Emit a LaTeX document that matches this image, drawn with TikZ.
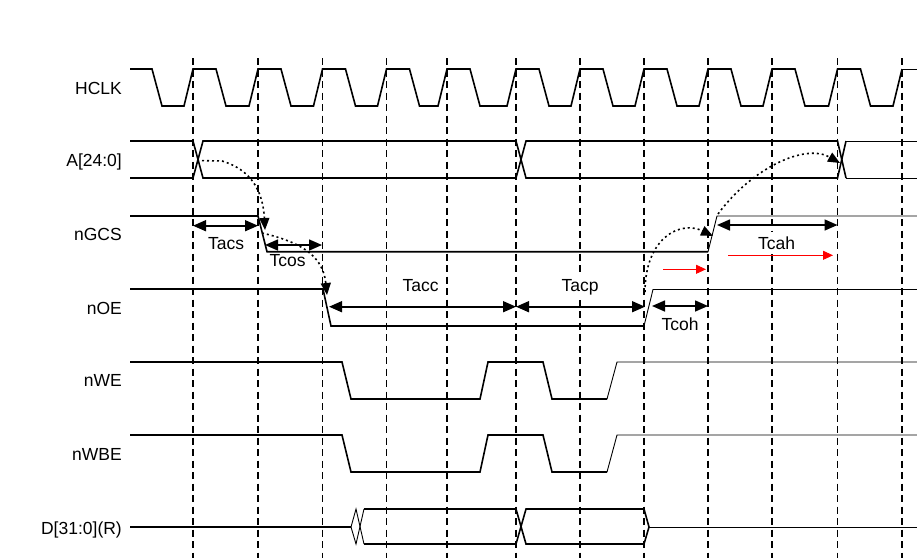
\documentclass[tikz,border=0pt]{standalone}
\usepackage{fontspec}
\setmainfont{Liberation Sans}
\usetikzlibrary{arrows.meta}
\begin{document}
\begin{tikzpicture}[x=1pt,y=-1pt,
  wave/.style={line width=1.6pt, line join=miter},
  thinwave/.style={line width=0.9pt},
  gridline/.style={line width=1.6pt, dash pattern=on 7pt off 4.5pt},
  dim/.style={line width=1.6pt, {Triangle[length=13pt,width=11pt]}-{Triangle[length=13pt,width=11pt]}},
  dotarrow/.style={line width=1.6pt, dash pattern=on 2pt off 3pt, -{Triangle[length=12pt,width=10pt]}},
  redarrow/.style={red, line width=0.9pt, -{Triangle[length=10pt,width=9pt]}},
  lbl/.style={font=\fontsize{17.5}{20}\selectfont, inner sep=0pt},
  tlbl/.style={lbl, fill=white, inner xsep=3pt, inner ysep=4.5pt, anchor=base},
]
\useasboundingbox (0,0) rectangle (917,558);

% dashed clock grid
\foreach \g in {193,258,322.5,386.5,447,516,580,644,708,772,837.5,902}
  \draw[gridline] (\g,58) -- (\g,558);

% timing labels (opaque, drawn over the grid)
\node[tlbl] (tacs) at (226,249) {Tacs};
\node[tlbl] (tcos) at (287.5,266.7) {Tcos};
\node[tlbl] (tacc) at (420.5,291.7) {Tacc};
\node[tlbl] (tacp) at (580,291.7) {Tacp};
\node[tlbl] (tcoh) at (680,330) {Tcoh};
\node[tlbl] (tcah) at (776.5,249) {Tcah};

% signal names
\node[lbl, anchor=base east] (lhclk) at (122,94) {HCLK};
\node[lbl, anchor=base east] (laddr) at (122,166.5) {A[24:0]};
\node[lbl, anchor=base east] (lgcs) at (122,240.7) {nGCS};
\node[lbl, anchor=base east] (loe) at (122,314) {nOE};
\node[lbl, anchor=base east] (lwe) at (122,386.7) {nWE};
\node[lbl, anchor=base east] (lwbe) at (122,460) {nWBE};
\node[lbl, anchor=base east] (ldata) at (122,534) {D[31:0](R)};

% HCLK
\draw[wave] (130,69) -- (152,69) -- (162,106)
  foreach \d in {193,258,322.5,386.5,447,516,580,644,708,772,837.5}
  { -- ({\d-9},106) -- (\d,69) -- ({\d+23},69) -- ({\d+33},106) }
  -- (893,106) -- (902,69);
\draw[thinwave] (902,69) -- (917,69);

% A[24:0]
\draw[wave] (130,141) -- (193,141) -- (203,178) -- (516,178) -- (526,141) -- (837.5,141) -- (846,178);
\draw[wave] (130,178) -- (193,178) -- (203,141) -- (516,141) -- (526,178) -- (837.5,178) -- (846,141);
\draw[thinwave] (846,141) -- (917,141);
\draw[thinwave] (846,178) -- (917,178);

% nGCS
\draw[wave] (130,216) -- (258,216) -- (267,251.7) -- (708,251.7);
\draw[thinwave] (708,251.7) -- (717,216) -- (917,216);

% nOE
\draw[wave] (130,289) -- (323,289) -- (331,326) -- (644,326);
\draw[thinwave] (644,326) -- (653,289.5) -- (917,289.5);

% nWE
\draw[wave] (130,362) -- (342,362) -- (351,399) -- (480,399) -- (488,362) -- (543,362) -- (552,399) -- (607,399);
\draw[thinwave] (607,399) -- (617,362) -- (917,362);

% nWBE
\draw[wave] (130,435) -- (342,435) -- (351,472) -- (480,472) -- (488,435) -- (543,435) -- (552,472) -- (607,472);
\draw[thinwave] (607,472) -- (617,435) -- (917,435);

% D[31:0](R)
\draw[wave] (130,527) -- (351,527);
\draw[thinwave] (351,527) -- (356,509) -- (364,544);
\draw[thinwave] (351,527) -- (356,544) -- (364,509);
\draw[wave] (364,544) -- (516,544) -- (526,509) -- (644,509) -- (649,527);
\draw[wave] (364,509) -- (516,509) -- (526,544) -- (644,544) -- (649,527);
\draw[thinwave] (649,527) -- (917,527);

% timing dimensions
\draw[dim] (193,225.7) -- (258,225.7);
\draw[dim] (265,245) -- (322,245);
\draw[dim] (329,306.7) -- (516,306.7);
\draw[dim] (516,306.7) -- (645,306.7);
\draw[dim] (652,306) -- (708,306);
\draw[dim] (717,225) -- (837.5,225);

% red arrows
\draw[redarrow] (663,269.3) -- (706,269.3);
\draw[redarrow] (728,255.3) -- (833,255.3);

% dotted causal arrows
\draw[dotarrow] (197,160.5) -- (222,161) .. controls (252,170) and (263,192) .. (265,230);
\draw[dotarrow] (262,233) .. controls (300,242) and (323,255) .. (327,295);
\draw[dotarrow] (645,292) .. controls (645,238) and (680,220) .. (713,236);
\draw[dotarrow] (718,214) .. controls (752,168) and (805,143) .. (840,163);
\end{tikzpicture}
\end{document}
